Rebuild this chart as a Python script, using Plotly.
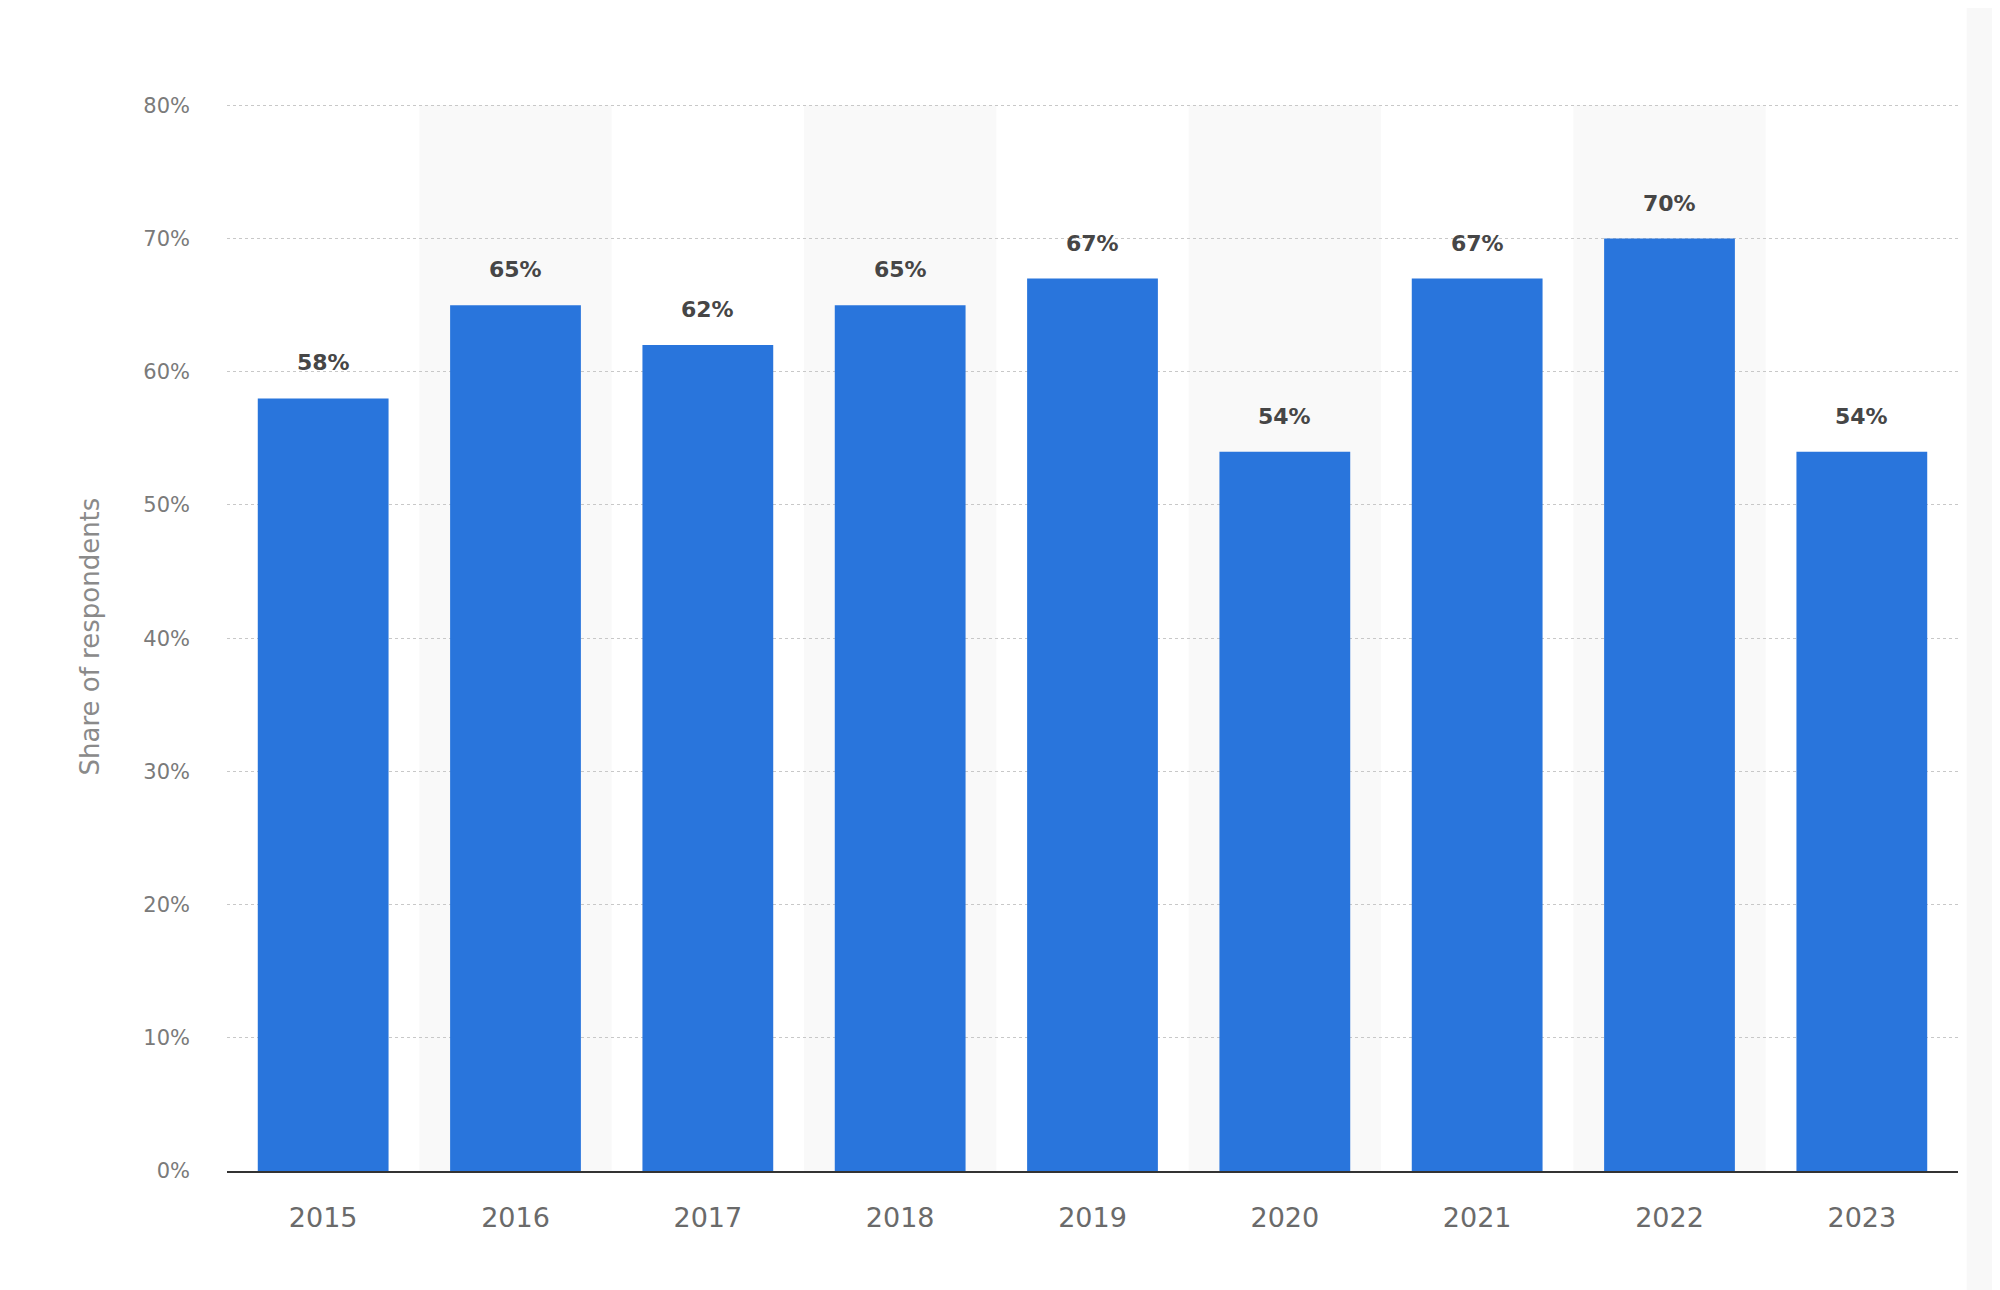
import plotly.graph_objects as go

years = ["2015", "2016", "2017", "2018", "2019", "2020", "2021", "2022", "2023"]
shares = [58, 65, 62, 65, 67, 54, 67, 70, 54]
y_ticks = [0, 10, 20, 30, 40, 50, 60, 70, 80]
y_tick_labels = [f"{v}%" for v in y_ticks]
y_title = "Share of respondents"

BAR = "#2975dc"
FONT = "DejaVu Sans"

fig = go.Figure()
fig.add_trace(go.Bar(
    x=years, y=shares, width=0.68,
    marker=dict(color=BAR, line=dict(width=0)),
    hoverinfo="x+y",
))

# alternating background bands
for i, yr in enumerate(years):
    if i % 2 == 1:
        fig.add_shape(type="rect", xref="x", yref="y",
                      x0=i - 0.5, x1=i + 0.5, y0=0, y1=80,
                      fillcolor="#f9f9f9", line=dict(width=0), layer="below")

# data labels
for i, v in enumerate(shares):
    fig.add_annotation(x=i, y=v, text=f"{v}%", showarrow=False,
                       xref="x", yref="y",
                       yanchor="bottom", yshift=21,
                       font=dict(family=FONT, size=22, color="#464646",
                                 weight="bold"))

# y-axis title
fig.add_annotation(xref="paper", yref="paper", x=-0.0797, y=0.5,
                   text=y_title, textangle=-90, showarrow=False,
                   xanchor="center", yanchor="middle",
                   font=dict(family=FONT, size=26, color="#8a8a8a"))

# faint strip at right edge
fig.add_shape(type="rect", xref="paper", yref="paper",
              x0=1.005, x1=1.03, y0=-0.12, y1=1.1,
              fillcolor="#f8f8f8", line=dict(width=0), layer="below")

fig.update_layout(
    width=1992, height=1282,
    margin=dict(l=219, r=42, t=94, b=119),
    paper_bgcolor="white", plot_bgcolor="white",
    showlegend=False, bargap=0.32,
    font=dict(family=FONT),
)
fig.update_xaxes(
    type="category", range=[-0.5, 8.5],
    showline=True, linecolor="#333333", linewidth=2,
    showgrid=False, ticks="", ticklabelstandoff=22,
    tickfont=dict(family=FONT, size=27, color="#6a6a6a"),
)
fig.update_yaxes(
    range=[0, 80.25], tickvals=y_ticks, ticktext=y_tick_labels,
    showgrid=True, gridcolor="#c8c8c8", gridwidth=1, griddash="dot",
    zeroline=False, showline=False, ticks="", ticklabelstandoff=36,
    tickfont=dict(family=FONT, size=21, color="#7a7a7a"),
)

fig.write_html("out.html")
